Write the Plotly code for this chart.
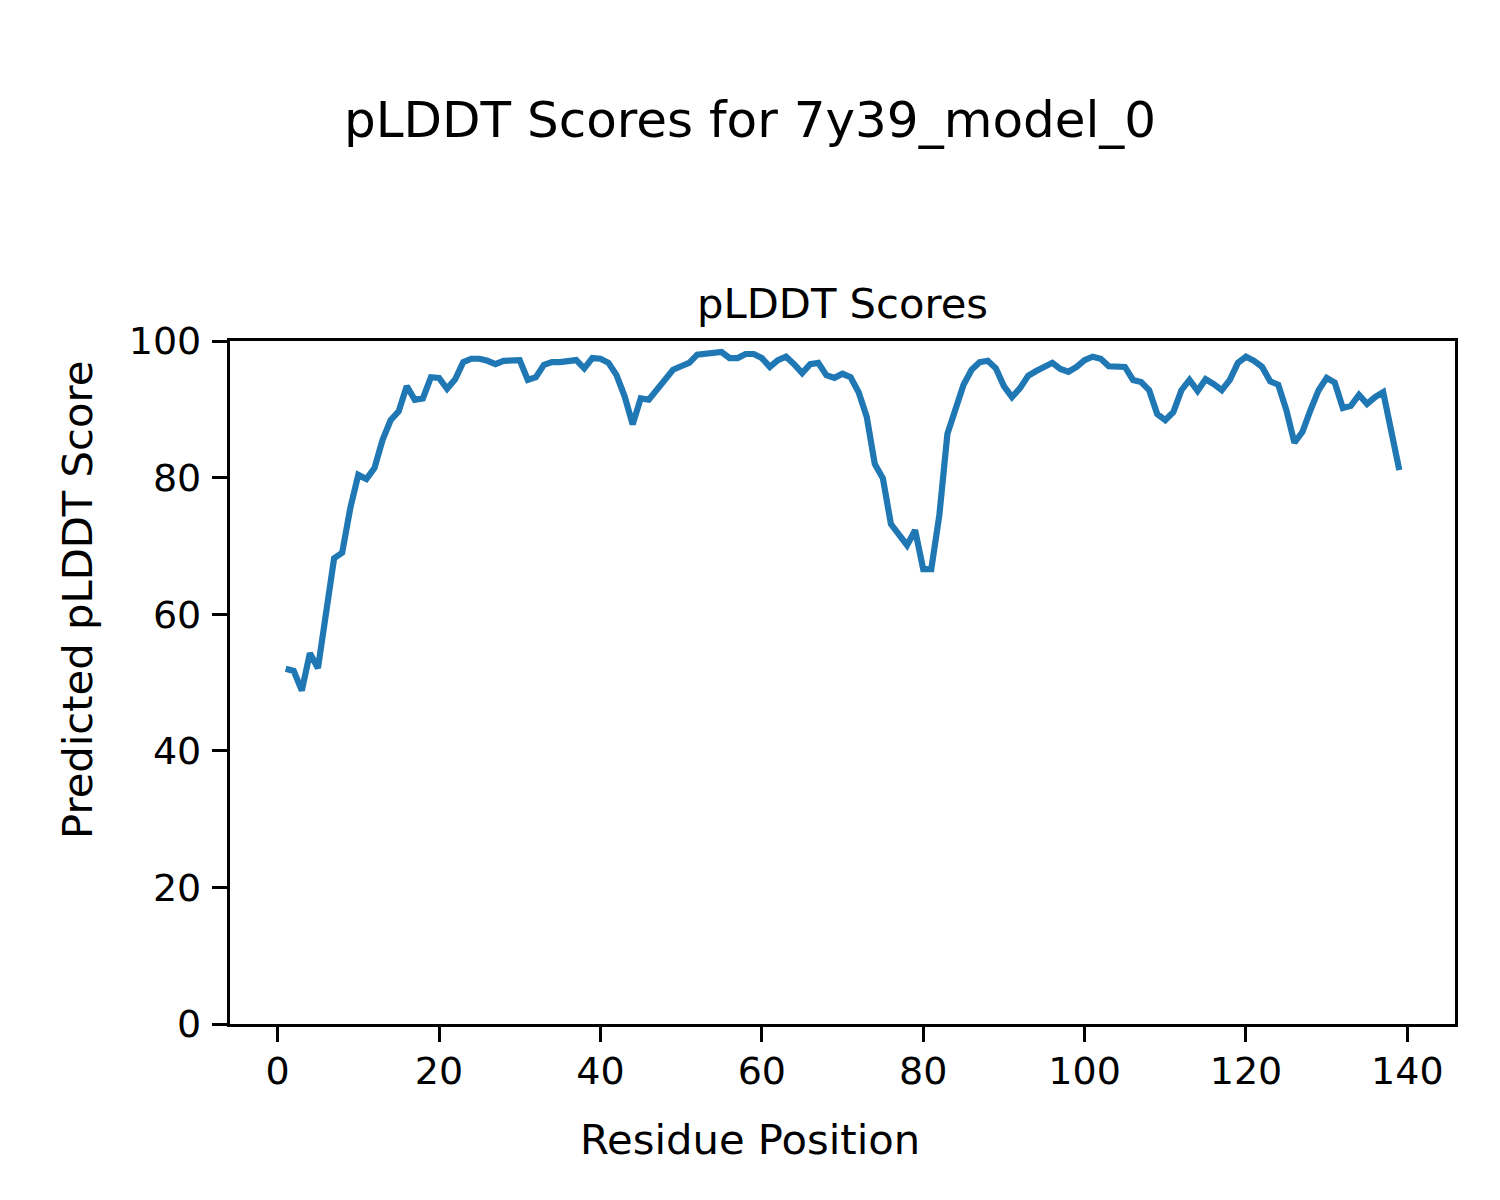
import plotly.graph_objects as go

residues = list(range(1, 140))
plddt = [
    52.0, 51.7, 48.8, 54.3, 52.1, 60.2, 68.2, 69.0, 75.5, 80.4,
    79.8, 81.4, 85.5, 88.4, 89.7, 93.4, 91.4, 91.6, 94.7, 94.6,
    93.0, 94.4, 96.9, 97.4, 97.4, 97.1, 96.6, 97.1, 97.1, 97.2,
    94.3, 94.7, 96.5, 96.9, 96.9, 97.1, 97.2, 96.0, 97.5, 97.4,
    96.8, 95.0, 91.9, 87.8, 91.6, 91.4, 92.8, 94.4, 95.8, 96.3,
    96.8, 98.0, 98.2, 98.4, 98.4, 97.5, 97.5, 98.1, 98.1, 97.5,
    96.2, 97.2, 97.7, 96.6, 95.3, 96.6, 96.8, 95.0, 94.6, 95.2,
    94.7, 92.5, 88.9, 82.0, 79.9, 73.2, 71.7, 70.1, 72.3, 66.6,
    66.6, 74.5, 86.4, 90.2, 93.6, 95.8, 96.9, 97.1, 96.0, 93.4,
    91.8, 93.1, 94.9, 95.6, 96.3, 96.8, 95.9, 95.5, 96.2, 97.2,
    97.7, 97.4, 96.3, 96.2, 96.2, 94.3, 94.0, 92.8, 89.3, 88.4,
    89.6, 92.8, 94.3, 92.7, 94.4, 93.7, 92.8, 94.3, 96.8, 97.7,
    97.1, 96.2, 94.1, 93.6, 89.9, 85.1, 86.7, 89.9, 92.8, 94.6,
    93.9, 90.2, 90.5, 92.1, 90.8, 91.8, 92.5, 86.8, 81.1,
]
x_ticks = [0, 20, 40, 60, 80, 100, 120, 140]
y_ticks = [0, 20, 40, 60, 80, 100]

suptitle = "pLDDT Scores for 7y39_model_0"
ax_title = "pLDDT Scores"
x_label = "Residue Position"
y_label = "Predicted pLDDT Score"

OFF = 8  # page body margin
W, H = 1500 - OFF, 1200 - OFF
L, R, T, B = 230, 1455, 341, 1024  # plot area in page pixels
FONT = "DejaVu Sans"


def px(xp):
    return (xp - L) / (R - L)


def py(yp):
    return (B - yp) / (B - T)


fig = go.Figure()
fig.add_trace(go.Scatter(
    x=residues, y=plddt, mode="lines",
    line=dict(color="#1f77b4", width=6.2),
    showlegend=False, hoverinfo="skip",
))

axis_common = dict(
    showline=True, linecolor="black", linewidth=3.3, mirror=True,
    ticks="outside", ticklen=15, tickwidth=3.3, tickcolor="black",
    showgrid=False, zeroline=False,
    tickfont=dict(family=FONT, size=38, color="black"),
)

fig.update_layout(
    width=W, height=H,
    margin=dict(l=L - OFF, r=W + OFF - R, t=T - OFF, b=H + OFF - B, pad=0),
    paper_bgcolor="white", plot_bgcolor="white",
    font=dict(family=FONT, color="black"),
    xaxis=dict(range=[-5.9, 145.9], tickvals=x_ticks,
               ticktext=[str(v) for v in x_ticks],
               ticklabelstandoff=-4, **axis_common),
    yaxis=dict(range=[0, 100], tickvals=y_ticks,
               ticktext=[str(v) for v in y_ticks],
               ticklabelstandoff=3, **axis_common),
    annotations=[
        dict(text=suptitle, x=px(750), y=py(120), xref="paper", yref="paper",
             xanchor="center", yanchor="middle", showarrow=False,
             font=dict(family=FONT, size=50, color="black")),
        dict(text=ax_title, x=px(842.5), y=py(303), xref="paper", yref="paper",
             xanchor="center", yanchor="middle", showarrow=False,
             font=dict(family=FONT, size=41.7, color="black")),
        dict(text=x_label, x=px(750), y=py(1139), xref="paper", yref="paper",
             xanchor="center", yanchor="middle", showarrow=False,
             font=dict(family=FONT, size=41.7, color="black")),
        dict(text=y_label, x=px(77), y=py(600), xref="paper", yref="paper",
             xanchor="center", yanchor="middle", showarrow=False, textangle=-90,
             font=dict(family=FONT, size=41.7, color="black")),
    ],
)

fig.write_html("out.html")
